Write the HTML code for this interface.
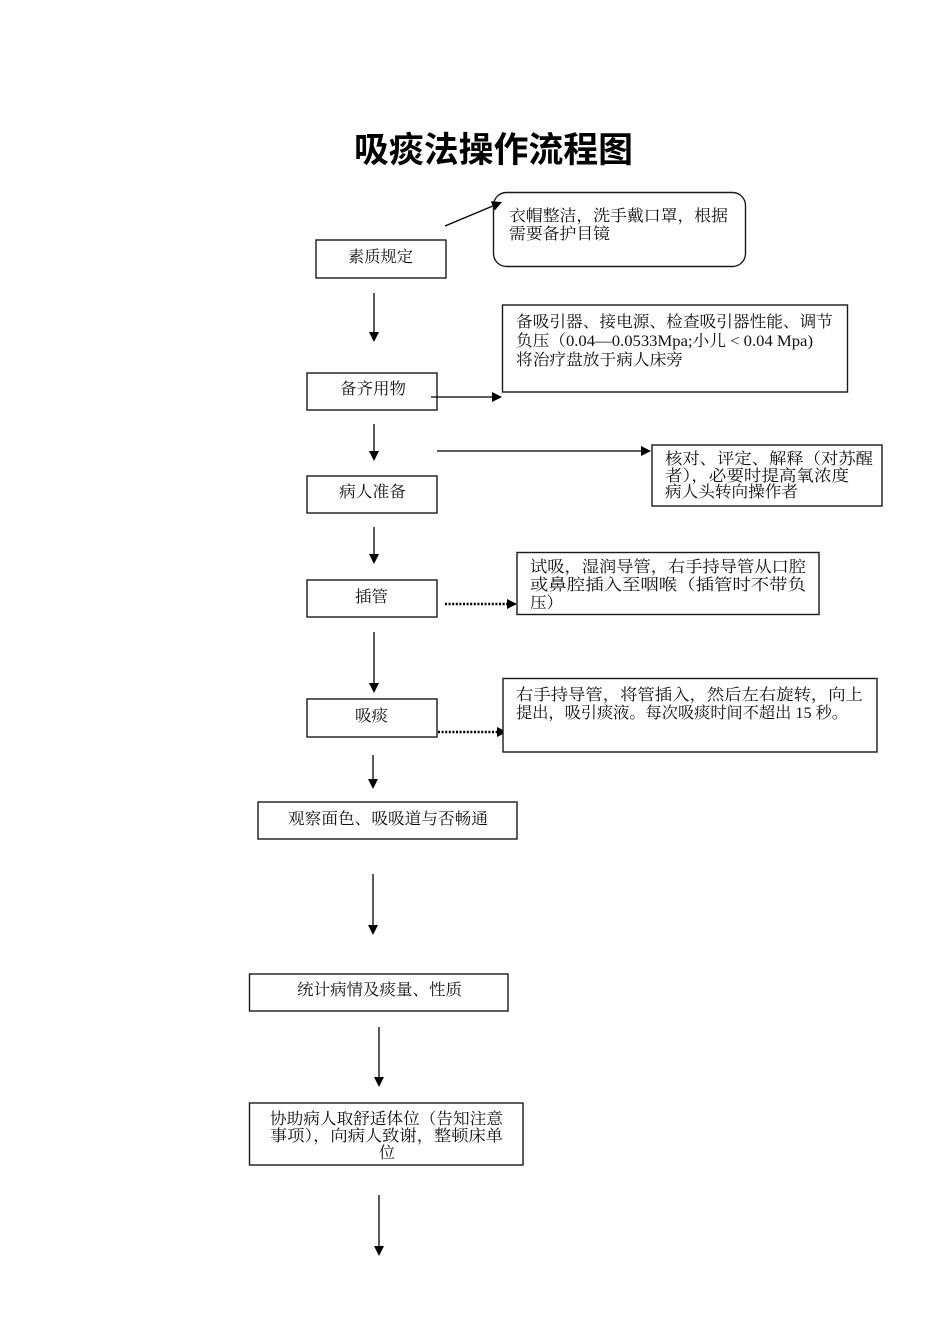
<!DOCTYPE html>
<html>
<head>
<meta charset="utf-8">
<style>
  html, body { margin: 0; padding: 0; background: #fff; }
  body { width: 950px; height: 1344px; overflow: hidden; }
  svg { display: block; }
  .t { font-family: "Liberation Serif", "Noto Serif CJK SC", serif; font-size: 16px; fill: #111; }
  .ttl { font-family: "Liberation Sans", "Noto Sans CJK SC", sans-serif; font-size: 35px; font-weight: bold; fill: #000; }
  .box { fill: #fff; stroke: #1a1a1a; stroke-width: 1.4; }
  .ln { stroke: #000; stroke-width: 1.3; fill: none; }
  .dot { stroke: #000; stroke-width: 2.6; stroke-dasharray: 2 1.6; fill: none; }
  .ah { fill: #000; stroke: none; }
</style>
</head>
<body>
<svg width="950" height="1344" viewBox="0 0 950 1344" xmlns="http://www.w3.org/2000/svg">
  <!-- Title -->
  <text class="ttl" x="354" y="162" textLength="279" lengthAdjust="spacingAndGlyphs">吸痰法操作流程图</text>

  <!-- Box: 素质规定 -->
  <rect class="box" x="316" y="240" width="130" height="38"/>
  <text class="t" x="348" y="262" textLength="65" lengthAdjust="spacingAndGlyphs">素质规定</text>

  <!-- Rounded box -->
  <rect class="box" x="493.5" y="192.5" width="252" height="74" rx="13" ry="13"/>
  <text class="t" x="509" y="221" textLength="219" lengthAdjust="spacingAndGlyphs">衣帽整洁，洗手戴口罩，根据</text>
  <text class="t" x="509" y="239" textLength="101" lengthAdjust="spacingAndGlyphs">需要备护目镜</text>

  <!-- diagonal arrow -->
  <line class="ln" x1="445" y1="226" x2="494" y2="205.5"/>
  <polygon class="ah" points="502,202 494.7,210.5 490.8,201.3"/>

  <!-- V arrow 1 -->
  <line class="ln" x1="374" y1="293" x2="374" y2="333"/>
  <polygon class="ah" points="369,332 379,332 374,342"/>

  <!-- Box: 备齐用物 -->
  <rect class="box" x="307" y="373" width="130" height="37"/>
  <text class="t" x="340" y="394" textLength="66" lengthAdjust="spacingAndGlyphs">备齐用物</text>

  <!-- Box: 备吸引器 -->
  <rect class="box" x="502.5" y="305" width="345" height="87"/>
  <text class="t" x="516" y="327" textLength="317" lengthAdjust="spacingAndGlyphs">备吸引器、接电源、检查吸引器性能、调节</text>
  <text class="t" x="516" y="346" textLength="297" lengthAdjust="spacingAndGlyphs">负压（0.04—0.0533Mpa;小儿 &lt; 0.04 Mpa)</text>
  <text class="t" x="516" y="365" textLength="167" lengthAdjust="spacingAndGlyphs">将治疗盘放于病人床旁</text>

  <!-- H arrow 备齐用物 -> -->
  <line class="ln" x1="431" y1="397" x2="493" y2="397"/>
  <polygon class="ah" points="492,392 492,402 502,397"/>

  <!-- V arrow 2 -->
  <line class="ln" x1="374" y1="424" x2="374" y2="452"/>
  <polygon class="ah" points="369,451 379,451 374,461"/>

  <!-- H arrow -> 核对 -->
  <line class="ln" x1="437" y1="451" x2="642" y2="451"/>
  <polygon class="ah" points="641,446 641,456 651,451"/>

  <!-- Box: 病人准备 -->
  <rect class="box" x="307" y="476" width="130" height="37"/>
  <text class="t" x="339" y="497" textLength="67" lengthAdjust="spacingAndGlyphs">病人准备</text>

  <!-- Box: 核对 -->
  <rect class="box" x="652" y="445" width="230" height="61"/>
  <text class="t" x="665" y="464" textLength="208" lengthAdjust="spacingAndGlyphs">核对、评定、解释（对苏醒</text>
  <text class="t" x="665" y="481" textLength="184" lengthAdjust="spacingAndGlyphs">者），必要时提高氧浓度</text>
  <text class="t" x="665" y="497" textLength="133" lengthAdjust="spacingAndGlyphs">病人头转向操作者</text>

  <!-- V arrow 3 -->
  <line class="ln" x1="374" y1="527" x2="374" y2="555"/>
  <polygon class="ah" points="369,554 379,554 374,564"/>

  <!-- Box: 插管 -->
  <rect class="box" x="307" y="580" width="130" height="37"/>
  <text class="t" x="355" y="602" textLength="33" lengthAdjust="spacingAndGlyphs">插管</text>

  <!-- dotted arrow -> 试吸 -->
  <line class="dot" x1="445" y1="604" x2="508" y2="604"/>
  <polygon class="ah" points="507,599 507,609 517,604"/>

  <!-- Box: 试吸 -->
  <rect class="box" x="517" y="552.5" width="302" height="62"/>
  <text class="t" x="530" y="572" textLength="276" lengthAdjust="spacingAndGlyphs">试吸，湿润导管，右手持导管从口腔</text>
  <text class="t" x="530" y="590" textLength="276" lengthAdjust="spacingAndGlyphs">或鼻腔插入至咽喉（插管时不带负</text>
  <text class="t" x="530" y="608" textLength="33" lengthAdjust="spacingAndGlyphs">压）</text>

  <!-- V arrow 4 -->
  <line class="ln" x1="374" y1="632" x2="374" y2="684"/>
  <polygon class="ah" points="369,683 379,683 374,693"/>

  <!-- Box: 吸痰 -->
  <rect class="box" x="307" y="699" width="130" height="38"/>
  <text class="t" x="355" y="721" textLength="33" lengthAdjust="spacingAndGlyphs">吸痰</text>

  <!-- dotted arrow -> 右手 -->
  <line class="dot" x1="438" y1="732" x2="498" y2="732"/>
  <polygon class="ah" points="497,727 497,737 507,732"/>

  <!-- Box: 右手持导管 -->
  <rect class="box" x="503" y="678.5" width="374" height="73.5"/>
  <text class="t" x="516" y="700" textLength="347" lengthAdjust="spacingAndGlyphs">右手持导管，将管插入，然后左右旋转，向上</text>
  <text class="t" x="516" y="718" textLength="332" lengthAdjust="spacingAndGlyphs">提出，吸引痰液。每次吸痰时间不超出 15 秒。</text>

  <!-- V arrow 5 -->
  <line class="ln" x1="373" y1="755" x2="373" y2="780"/>
  <polygon class="ah" points="368,779 378,779 373,789"/>

  <!-- Box: 观察 -->
  <rect class="box" x="258" y="802" width="259" height="37"/>
  <text class="t" x="288" y="824" textLength="200" lengthAdjust="spacingAndGlyphs">观察面色、吸吸道与否畅通</text>

  <!-- V arrow 6 -->
  <line class="ln" x1="373" y1="874" x2="373" y2="926"/>
  <polygon class="ah" points="368,925 378,925 373,935"/>

  <!-- Box: 统计 -->
  <rect class="box" x="249.5" y="974" width="258.5" height="37"/>
  <text class="t" x="297" y="995" textLength="165" lengthAdjust="spacingAndGlyphs">统计病情及痰量、性质</text>

  <!-- V arrow 7 -->
  <line class="ln" x1="379" y1="1027" x2="379" y2="1078"/>
  <polygon class="ah" points="374,1077 384,1077 379,1087"/>

  <!-- Box: 协助 -->
  <rect class="box" x="249.5" y="1103" width="273.5" height="62"/>
  <text class="t" x="270" y="1124" textLength="233" lengthAdjust="spacingAndGlyphs">协助病人取舒适体位（告知注意</text>
  <text class="t" x="270" y="1141" textLength="233" lengthAdjust="spacingAndGlyphs">事项），向病人致谢，整顿床单</text>
  <text class="t" x="379" y="1158" textLength="16" lengthAdjust="spacingAndGlyphs">位</text>

  <!-- V arrow 8 -->
  <line class="ln" x1="379" y1="1195" x2="379" y2="1247"/>
  <polygon class="ah" points="374,1246 384,1246 379,1256"/>
</svg>
</body>
</html>
